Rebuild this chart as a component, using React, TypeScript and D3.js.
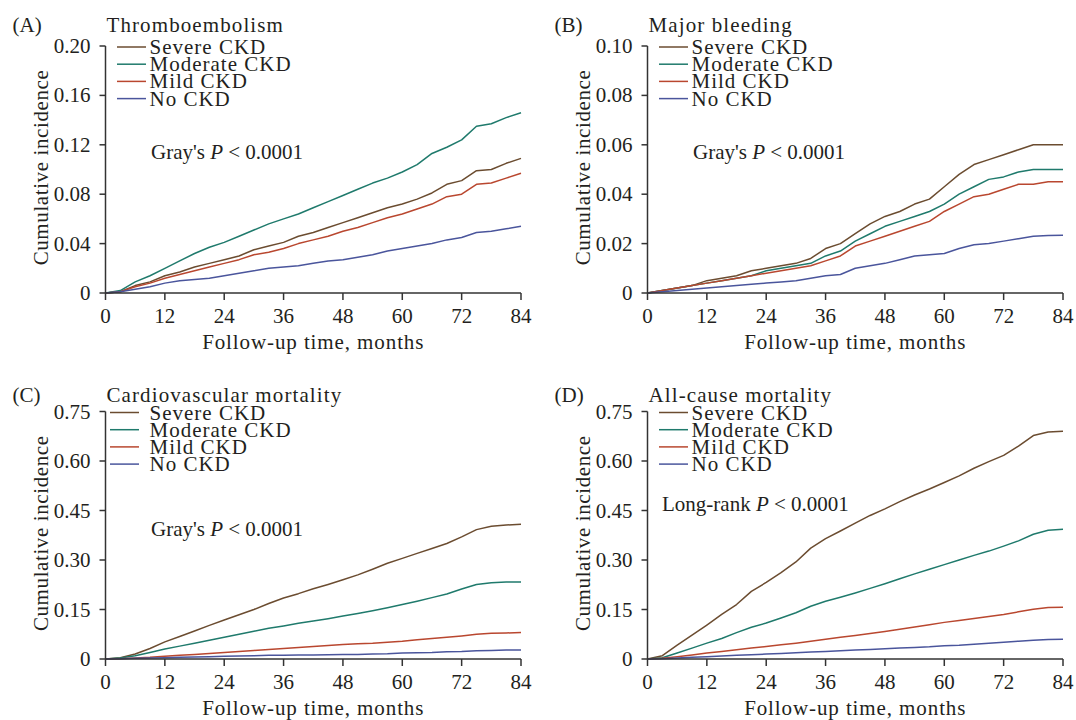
import React from "react";
import * as d3 from "d3";

// ---------- data ----------
const MONTHS = [0, 3, 6, 9, 12, 15, 18, 21, 24, 27, 30, 33, 36, 39, 42, 45, 48, 51, 54, 57, 60, 63, 66, 69, 72, 75, 78, 81, 84];
const X_TICKS = [0, 12, 24, 36, 48, 60, 72, 84];
const GROUPS = ["Severe CKD", "Moderate CKD", "Mild CKD", "No CKD"];
const COLORS = ["#6b4c30", "#1f7a6c", "#b9472f", "#4a559c"];

// (A) Thromboembolism
const A_Y_TICKS = [0, 0.04, 0.08, 0.12, 0.16, 0.2];
const A_Y_LABELS = ["0", "0.04", "0.08", "0.12", "0.16", "0.20"];
const A_SEVERE = [0, 0.001, 0.006, 0.009, 0.014, 0.017, 0.021, 0.024, 0.027, 0.030, 0.035, 0.038, 0.041, 0.046, 0.049, 0.053, 0.057, 0.061, 0.065, 0.069, 0.072, 0.076, 0.081, 0.088, 0.091, 0.099, 0.100, 0.105, 0.109];
const A_MODERATE = [0, 0.002, 0.009, 0.014, 0.020, 0.026, 0.032, 0.037, 0.041, 0.046, 0.051, 0.056, 0.060, 0.064, 0.069, 0.074, 0.079, 0.084, 0.089, 0.093, 0.098, 0.104, 0.113, 0.118, 0.124, 0.135, 0.137, 0.142, 0.146];
const A_MILD = [0, 0.001, 0.005, 0.008, 0.012, 0.015, 0.018, 0.021, 0.024, 0.027, 0.031, 0.033, 0.036, 0.040, 0.043, 0.046, 0.050, 0.053, 0.057, 0.061, 0.064, 0.068, 0.072, 0.078, 0.080, 0.088, 0.089, 0.093, 0.097];
const A_NONE = [0, 0.001, 0.003, 0.005, 0.008, 0.010, 0.011, 0.012, 0.014, 0.016, 0.018, 0.020, 0.021, 0.022, 0.024, 0.026, 0.027, 0.029, 0.031, 0.034, 0.036, 0.038, 0.040, 0.043, 0.045, 0.049, 0.050, 0.052, 0.054];

// (B) Major bleeding
const B_Y_TICKS = [0, 0.02, 0.04, 0.06, 0.08, 0.1];
const B_Y_LABELS = ["0", "0.02", "0.04", "0.06", "0.08", "0.10"];
const B_SEVERE = [0, 0.001, 0.002, 0.003, 0.005, 0.006, 0.007, 0.009, 0.010, 0.011, 0.012, 0.014, 0.018, 0.020, 0.024, 0.028, 0.031, 0.033, 0.036, 0.038, 0.043, 0.048, 0.052, 0.054, 0.056, 0.058, 0.060, 0.060, 0.060];
const B_MODERATE = [0, 0.001, 0.002, 0.003, 0.004, 0.005, 0.006, 0.007, 0.009, 0.010, 0.011, 0.012, 0.015, 0.017, 0.021, 0.024, 0.027, 0.029, 0.031, 0.033, 0.036, 0.040, 0.043, 0.046, 0.047, 0.049, 0.050, 0.050, 0.050];
const B_MILD = [0, 0.001, 0.002, 0.003, 0.004, 0.005, 0.006, 0.007, 0.008, 0.009, 0.010, 0.011, 0.013, 0.015, 0.019, 0.021, 0.023, 0.025, 0.027, 0.029, 0.033, 0.036, 0.039, 0.040, 0.042, 0.044, 0.044, 0.045, 0.045];
const B_NONE = [0, 0.0005, 0.001, 0.0015, 0.002, 0.0025, 0.003, 0.0035, 0.004, 0.0045, 0.005, 0.006, 0.007, 0.0075, 0.010, 0.011, 0.012, 0.0135, 0.015, 0.0155, 0.016, 0.018, 0.0195, 0.020, 0.021, 0.022, 0.023, 0.0233, 0.0234];

// (C) Cardiovascular mortality
const C_Y_TICKS = [0, 0.15, 0.3, 0.45, 0.6, 0.75];
const C_Y_LABELS = ["0", "0.15", "0.30", "0.45", "0.60", "0.75"];
const C_SEVERE = [0, 0.004, 0.015, 0.032, 0.052, 0.068, 0.085, 0.102, 0.118, 0.134, 0.150, 0.168, 0.185, 0.198, 0.213, 0.226, 0.240, 0.255, 0.272, 0.290, 0.305, 0.320, 0.335, 0.350, 0.370, 0.392, 0.402, 0.406, 0.408];
const C_MODERATE = [0, 0.003, 0.010, 0.020, 0.030, 0.039, 0.048, 0.057, 0.066, 0.075, 0.084, 0.093, 0.100, 0.108, 0.115, 0.122, 0.130, 0.138, 0.146, 0.155, 0.165, 0.175, 0.186, 0.197, 0.212, 0.226, 0.231, 0.233, 0.233];
const C_MILD = [0, 0.001, 0.003, 0.005, 0.008, 0.011, 0.014, 0.017, 0.020, 0.023, 0.026, 0.029, 0.032, 0.035, 0.038, 0.041, 0.044, 0.046, 0.048, 0.051, 0.054, 0.058, 0.062, 0.066, 0.070, 0.075, 0.078, 0.079, 0.080];
const C_NONE = [0, 0.001, 0.002, 0.003, 0.004, 0.005, 0.006, 0.007, 0.008, 0.009, 0.010, 0.011, 0.011, 0.012, 0.012, 0.013, 0.014, 0.014, 0.015, 0.016, 0.018, 0.019, 0.020, 0.022, 0.023, 0.025, 0.026, 0.027, 0.027];

// (D) All-cause mortality
const D_Y_TICKS = [0, 0.15, 0.3, 0.45, 0.6, 0.75];
const D_Y_LABELS = ["0", "0.15", "0.30", "0.45", "0.60", "0.75"];
const D_SEVERE = [0, 0.010, 0.042, 0.072, 0.103, 0.135, 0.165, 0.205, 0.232, 0.262, 0.294, 0.336, 0.365, 0.388, 0.412, 0.435, 0.455, 0.477, 0.497, 0.515, 0.535, 0.555, 0.578, 0.598, 0.617, 0.645, 0.677, 0.688, 0.690];
const D_MODERATE = [0, 0.004, 0.018, 0.033, 0.048, 0.062, 0.080, 0.096, 0.109, 0.124, 0.140, 0.160, 0.175, 0.187, 0.200, 0.214, 0.228, 0.243, 0.258, 0.272, 0.286, 0.300, 0.314, 0.327, 0.342, 0.358, 0.378, 0.390, 0.393];
const D_MILD = [0, 0.002, 0.007, 0.012, 0.018, 0.023, 0.028, 0.033, 0.038, 0.043, 0.048, 0.054, 0.060, 0.066, 0.071, 0.077, 0.083, 0.090, 0.097, 0.104, 0.111, 0.117, 0.123, 0.129, 0.135, 0.143, 0.151, 0.156, 0.157];
const D_NONE = [0, 0.001, 0.003, 0.005, 0.007, 0.009, 0.011, 0.013, 0.015, 0.017, 0.019, 0.021, 0.023, 0.025, 0.027, 0.029, 0.031, 0.033, 0.035, 0.037, 0.040, 0.042, 0.045, 0.048, 0.051, 0.054, 0.057, 0.059, 0.060];

const FONT = "'Liberation Serif', 'Times New Roman', serif";
const INK = "#231f20";

type PanelProps = {
  letter: string;
  title: string;
  yMax: number;
  yTicks: number[];
  yLabels: string[];
  series: number[][];
  testName: string;
  x0: number;
  x1: number;
  yTop: number;
  yBottom: number;
  titleDy: number;
  legendX: number;
  pX: number;
  pY: number;
};

function Panel(p: PanelProps) {
  const x = d3.scaleLinear().domain([0, 84]).range([p.x0, p.x1]);
  const y = d3.scaleLinear().domain([0, p.yMax]).range([p.yBottom, p.yTop]);
  const line = d3
    .line<number>()
    .x((_, i) => x(MONTHS[i]))
    .y((d) => y(d))
    .curve(d3.curveLinear);
  const yMid = (p.yTop + p.yBottom) / 2;
  return (
    <g fontFamily={FONT} fill={INK}>
      <text x={p.x0 - 93} y={p.yTop + p.titleDy} fontSize={21}>
        {`(${p.letter})`}
      </text>
      <text x={p.x0 + 1} y={p.yTop + p.titleDy} fontSize={21} letterSpacing={1.1}>
        {p.title}
      </text>
      {/* curves */}
      {p.series.map((s, i) => (
        <path key={i} d={line(s) || ""} fill="none" stroke={COLORS[i]} strokeWidth={1.5} strokeLinejoin="round" />
      ))}
      {/* y axis */}
      <line x1={p.x0} x2={p.x0} y1={p.yTop} y2={p.yBottom} stroke="#333" strokeWidth={1.5} />
      {p.yTicks.map((t, i) => (
        <g key={i}>
          <line x1={p.x0 - 6} x2={p.x0} y1={y(t)} y2={y(t)} stroke="#333" strokeWidth={1.5} />
          <text x={p.x0 - 15} y={y(t) + 7} fontSize={21} textAnchor="end">
            {p.yLabels[i]}
          </text>
        </g>
      ))}
      {/* x axis */}
      <line x1={p.x0} x2={p.x1} y1={p.yBottom} y2={p.yBottom} stroke="#333" strokeWidth={1.5} />
      {X_TICKS.map((t) => (
        <g key={t}>
          <line x1={x(t)} x2={x(t)} y1={p.yBottom} y2={p.yBottom + 7} stroke="#333" strokeWidth={1.5} />
          <text x={x(t)} y={p.yBottom + 30} fontSize={21} textAnchor="middle">
            {t}
          </text>
        </g>
      ))}
      <text x={(p.x0 + p.x1) / 2} y={p.yBottom + 56} fontSize={21} textAnchor="middle" letterSpacing={0.9}>
        Follow-up time, months
      </text>
      <text
        transform={`translate(${p.x0 - 58},${yMid - 2}) rotate(-90)`}
        fontSize={21}
        textAnchor="middle"
        letterSpacing={0.6}
      >
        Cumulative incidence
      </text>
      {/* legend */}
      {GROUPS.map((g, i) => {
        const ly = p.yTop + 1 + i * 17.2;
        return (
          <g key={g}>
            <line x1={p.legendX} x2={p.legendX + 29} y1={ly} y2={ly} stroke={COLORS[i]} strokeWidth={1.5} />
            <text x={p.x0 + 44} y={ly + 7} fontSize={21} letterSpacing={1}>
              {g}
            </text>
          </g>
        );
      })}
      <text x={p.pX} y={p.pY} fontSize={21}>
        {p.testName}
        <tspan fontStyle="italic">P</tspan>
        {" < 0.0001"}
      </text>
    </g>
  );
}

export default function App() {
  return (
    <svg width={1076} height={720} style={{ display: "block", position: "absolute", left: 0, top: 0, background: "#fff" }}>
      <rect width={1076} height={720} fill="#fff" />
      <Panel
        letter="A"
        title="Thromboembolism"
        yMax={0.2}
        yTicks={A_Y_TICKS}
        yLabels={A_Y_LABELS}
        series={[A_SEVERE, A_MODERATE, A_MILD, A_NONE]}
        testName="Gray's "
        x0={105.5}
        x1={521}
        yTop={46}
        yBottom={293}
        titleDy={-14}
        legendX={117}
        pX={151}
        pY={159}
      />
      <Panel
        letter="B"
        title="Major bleeding"
        yMax={0.1}
        yTicks={B_Y_TICKS}
        yLabels={B_Y_LABELS}
        series={[B_SEVERE, B_MODERATE, B_MILD, B_NONE]}
        testName="Gray's "
        x0={647.5}
        x1={1063}
        yTop={46}
        yBottom={293}
        titleDy={-14}
        legendX={659}
        pX={693}
        pY={159}
      />
      <Panel
        letter="C"
        title="Cardiovascular mortality"
        yMax={0.75}
        yTicks={C_Y_TICKS}
        yLabels={C_Y_LABELS}
        series={[C_SEVERE, C_MODERATE, C_MILD, C_NONE]}
        testName="Gray's "
        x0={105.5}
        x1={521}
        yTop={411.5}
        yBottom={659}
        titleDy={-10}
        legendX={110}
        pX={151}
        pY={536}
      />
      <Panel
        letter="D"
        title="All-cause mortality"
        yMax={0.75}
        yTicks={D_Y_TICKS}
        yLabels={D_Y_LABELS}
        series={[D_SEVERE, D_MODERATE, D_MILD, D_NONE]}
        testName="Long-rank "
        x0={647.5}
        x1={1063}
        yTop={411.5}
        yBottom={659}
        titleDy={-10}
        legendX={659}
        pX={662}
        pY={511}
      />
    </svg>
  );
}
